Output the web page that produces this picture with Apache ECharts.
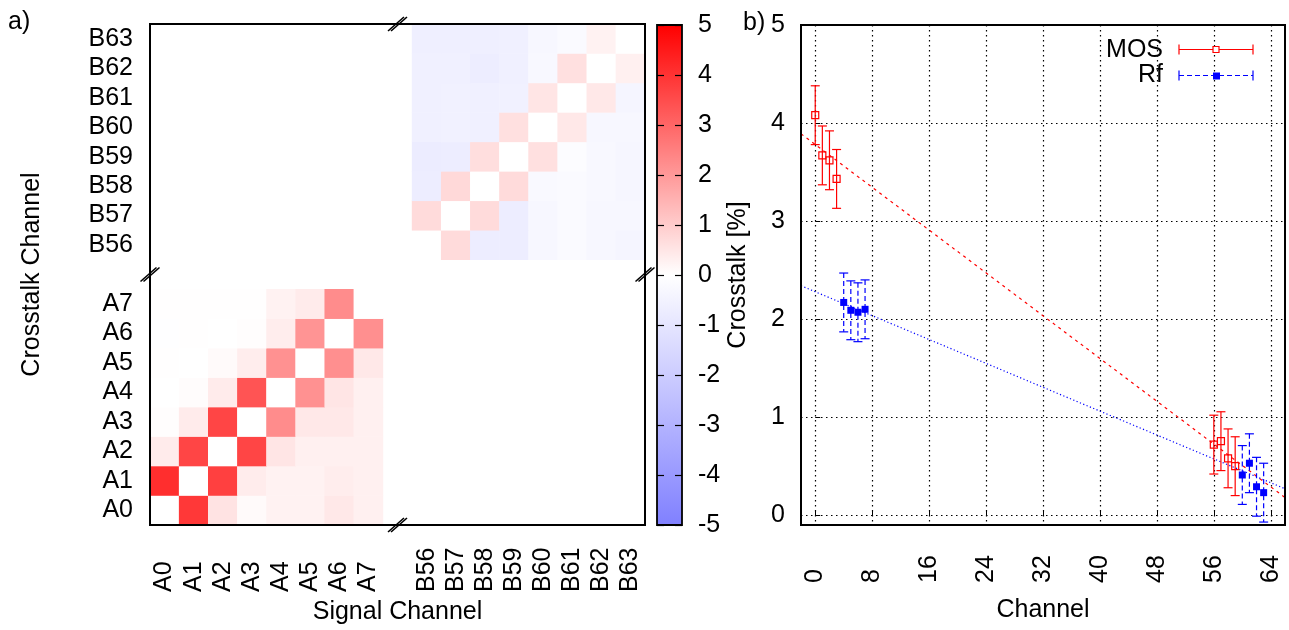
<!DOCTYPE html>
<html>
<head>
<meta charset="utf-8">
<script src="https://cdn.jsdelivr.net/npm/echarts@6/dist/echarts.min.js"></script>
<style>
html,body{margin:0;padding:0;background:#fff;}
#chart{width:1289px;height:630px;}
</style>
</head>
<body>
<div id="chart"></div>
<script>
// ---------- data ----------
const signalCats = ['A0','A1','A2','A3','A4','A5','A6','A7','','B56','B57','B58','B59','B60','B61','B62','B63'];
const crossCats  = ['A0','A1','A2','A3','A4','A5','A6','A7','','B56','B57','B58','B59','B60','B61','B62','B63'];
// rows: crosstalk channel A0..A7 ; cols: signal channel A0..A7
const blockA = [
  [0.00, 3.90, 0.55, 0.10, 0.25, 0.25, 0.45, 0.30],
  [4.10, 0.00, 3.75, 0.37, 0.25, 0.25, 0.35, 0.30],
  [0.40, 3.65, 0.00, 3.65, 0.50, 0.30, 0.30, 0.30],
  [0.03, 0.40, 3.65, 0.00, 2.25, 0.45, 0.45, 0.30],
  [0.00, 0.05, 0.40, 3.35, 0.00, 2.15, 0.50, 0.30],
  [0.02, 0.00, 0.10, 0.35, 2.15, 0.00, 2.20, 0.45],
  [-0.05,0.02, 0.00, 0.03, 0.35, 2.10, 0.00, 2.20],
  [0.02, 0.02, 0.02, 0.02, 0.25, 0.40, 2.25, 0.00]
];
// rows: crosstalk channel B56..B63 ; cols: signal channel B56..B63
const blockB = [
  [0.00, 0.70, -0.70, -0.70, -0.30, -0.20, -0.30, -0.40],
  [0.70, 0.00, 0.70, -0.70, -0.30, -0.20, -0.30, -0.30],
  [-0.70, 0.75, 0.00, 0.70, -0.25, -0.20, -0.28, -0.35],
  [-0.75, -0.70, 0.65, 0.00, 0.60, -0.10, -0.28, -0.35],
  [-0.60, -0.55, -0.60, 0.60, 0.00, 0.45, -0.32, -0.32],
  [-0.60, -0.55, -0.60, -0.55, 0.50, 0.00, 0.45, -0.40],
  [-0.60, -0.60, -0.70, -0.60, -0.28, 0.60, 0.00, 0.30],
  [-0.63, -0.63, -0.63, -0.60, -0.30, -0.20, 0.25, 0.00]
];
const colorbarTicks = [-5,-4,-3,-2,-1,0,1,2,3,4,5];

const mosChannel = [0, 1, 2, 3, 56, 57, 58, 59];
const mosValue   = [4.08, 3.67, 3.62, 3.43, 0.72, 0.755, 0.58, 0.50];
const mosError   = [0.30, 0.30, 0.30, 0.30, 0.30, 0.30, 0.30, 0.30];
const rfChannel  = [4, 5, 6, 7, 60, 61, 62, 63];
const rfValue    = [2.17, 2.09, 2.07, 2.10, 0.41, 0.53, 0.29, 0.23];
const rfError    = [0.30, 0.30, 0.30, 0.30, 0.30, 0.30, 0.30, 0.30];
const mosFitX = [-2, 66];
const mosFitY = [3.89, 0.18];
const rfFitX  = [-2, 66];
const rfFitY  = [2.34, 0.27];
const channelTicks = [0, 8, 16, 24, 32, 40, 48, 56, 64];
const crosstalkTicks = [0, 1, 2, 3, 4, 5];

// ---------- layout ----------
const FONT = 'Liberation Sans, Arial, Helvetica, sans-serif';
const FS = 25;
const HM = {left:150, top:24, width:495, height:501};
const CB = {left:657, top:25, width:25, height:500};
const SC = {left:801, top:25, width:484, height:500};

const heatData = [];
for (let r = 0; r < 8; r++) for (let c = 0; c < 8; c++) {
  heatData.push([c, r, blockA[r][c]]);
  heatData.push([c + 9, r + 9, blockB[r][c]]);
}
const mosData = mosChannel.map((x, i) => [x, mosValue[i], mosError[i]]);
const rfData  = rfChannel.map((x, i) => [x, rfValue[i], rfError[i]]);

function errRender(color, filled, dashed) {
  return function (params, api) {
    const x = api.value(0), y = api.value(1), e = api.value(2);
    const pc = api.coord([x, y]), pt = api.coord([x, y + e]), pb = api.coord([x, y - e]);
    const cap = 4.5, s = 3.5;
    const ls = {stroke: color, lineWidth: 1.2, lineDash: dashed ? [5, 3] : null};
    return {type: 'group', children: [
      {type: 'line', shape: {x1: pt[0], y1: pt[1], x2: pb[0], y2: pb[1]}, style: ls},
      {type: 'line', shape: {x1: pt[0] - cap, y1: pt[1], x2: pt[0] + cap, y2: pt[1]}, style: {stroke: color, lineWidth: 1.2}},
      {type: 'line', shape: {x1: pb[0] - cap, y1: pb[1], x2: pb[0] + cap, y2: pb[1]}, style: {stroke: color, lineWidth: 1.2}},
      {type: 'rect', shape: {x: pc[0] - s, y: pc[1] - s, width: 2 * s, height: 2 * s},
       style: filled ? {fill: color} : {fill: 'transparent', stroke: color, lineWidth: 1.2}}
    ]};
  };
}

function breakMark(cx, cy) {
  const d = 3;
  return [
    {type: 'line', z: 101, shape: {x1: cx - 8 - d/2, y1: cy + 7, x2: cx + 8 - d/2, y2: cy - 7}, style: {stroke: '#000', lineWidth: 1.6}},
    {type: 'line', z: 101, shape: {x1: cx - 8 + d/2, y1: cy + 7, x2: cx + 8 + d/2, y2: cy - 7}, style: {stroke: '#000', lineWidth: 1.6}}
  ];
}
const gapX = HM.left + HM.width * 8.5 / 17;
const gapY = HM.top + HM.height * 8.5 / 17;

const graphics = [
  {type: 'rect', z: -10, shape: {x: CB.left, y: CB.top, width: CB.width, height: CB.height},
   style: {fill: {type: 'linear', x: 0, y: 0, x2: 0, y2: 1, colorStops: [
     {offset: 0, color: '#ff0000'}, {offset: 0.5, color: '#ffffff'}, {offset: 1, color: '#8080ff'}]}}},
  {type: 'rect', z: 100, shape: {x: CB.left, y: CB.top, width: CB.width, height: CB.height}, style: {fill: 'transparent', stroke: '#000', lineWidth: 1.8}},
  {type: 'rect', z: 100, shape: {x: HM.left, y: HM.top, width: HM.width, height: HM.height}, style: {fill: 'transparent', stroke: '#000', lineWidth: 2}},
  {type: 'rect', z: 100, shape: {x: SC.left, y: SC.top, width: SC.width, height: SC.height}, style: {fill: 'transparent', stroke: '#000', lineWidth: 2}},
  ...breakMark(gapX, HM.top), ...breakMark(gapX, HM.top + HM.height),
  ...breakMark(HM.left, gapY), ...breakMark(HM.left + HM.width, gapY),
  {type: 'text', z: 100, style: {text: 'a)', x: 8, y: 22, font: FS + 'px ' + FONT, fill: '#000', verticalAlign: 'middle'}},
  {type: 'text', z: 100, style: {text: 'b)', x: 743, y: 23, font: FS + 'px ' + FONT, fill: '#000', verticalAlign: 'middle'}},
  // legend
  {type: 'text', z: 100, style: {text: 'MOS', x: 1163, y: 50, font: FS + 'px ' + FONT, fill: '#000', align: 'right', verticalAlign: 'middle'}},
  {type: 'line', z: 100, shape: {x1: 1179, y1: 49.5, x2: 1253, y2: 49.5}, style: {stroke: '#ff0000', lineWidth: 1.2}},
  {type: 'line', z: 100, shape: {x1: 1179, y1: 44.5, x2: 1179, y2: 54.5}, style: {stroke: '#ff0000', lineWidth: 1.2}},
  {type: 'line', z: 100, shape: {x1: 1253, y1: 44.5, x2: 1253, y2: 54.5}, style: {stroke: '#ff0000', lineWidth: 1.2}},
  {type: 'rect', z: 101, shape: {x: 1213, y: 46.5, width: 6, height: 6}, style: {fill: '#fff', stroke: '#ff0000', lineWidth: 1.2}},
  {type: 'text', z: 100, style: {text: 'Rf', x: 1163, y: 75, font: FS + 'px ' + FONT, fill: '#000', align: 'right', verticalAlign: 'middle'}},
  {type: 'line', z: 100, shape: {x1: 1179, y1: 75.5, x2: 1253, y2: 75.5}, style: {stroke: '#0000ff', lineWidth: 1.2, lineDash: [5, 3]}},
  {type: 'line', z: 100, shape: {x1: 1179, y1: 70.5, x2: 1179, y2: 80.5}, style: {stroke: '#0000ff', lineWidth: 1.2}},
  {type: 'line', z: 100, shape: {x1: 1253, y1: 70.5, x2: 1253, y2: 80.5}, style: {stroke: '#0000ff', lineWidth: 1.2}},
  {type: 'rect', z: 101, shape: {x: 1213, y: 72.5, width: 7, height: 7}, style: {fill: '#0000ff'}}
];

const txt = {fontFamily: FONT, fontSize: FS, color: '#000'};

const option = {
  animation: false,
  backgroundColor: '#fff',
  textStyle: {fontFamily: FONT},
  grid: [
    {left: HM.left, top: HM.top, width: HM.width, height: HM.height, containLabel: false, outerBoundsMode: 'none'},
    {left: CB.left, top: CB.top, width: CB.width, height: CB.height, containLabel: false, outerBoundsMode: 'none'},
    {left: SC.left, top: SC.top, width: SC.width, height: SC.height, containLabel: false, outerBoundsMode: 'none'}
  ],
  xAxis: [
    {type: 'category', gridIndex: 0, data: signalCats,
     axisLine: {show: false}, axisTick: {show: false}, splitLine: {show: false},
     axisLabel: Object.assign({rotate: 90, interval: 0, align: 'left', margin: 67}, txt),
     name: 'Signal Channel', nameLocation: 'middle', nameGap: 74, nameTextStyle: txt},
    {type: 'value', gridIndex: 1, min: 0, max: 1, show: false},
    {type: 'value', gridIndex: 2, min: -2, max: 66,
     axisLine: {show: false},
     axisTick: {show: true, inside: true, length: 5, customValues: channelTicks, lineStyle: {color: '#000'}},
     axisLabel: Object.assign({rotate: 90, align: 'left', margin: 58, customValues: channelTicks}, txt),
     splitLine: {show: true, lineStyle: {color: '#000', type: [1.5, 3.5], width: 1.2}},
     name: 'Channel', nameLocation: 'middle', nameGap: 73, nameTextStyle: txt}
  ],
  yAxis: [
    {type: 'category', gridIndex: 0, data: crossCats,
     axisLine: {show: false}, axisTick: {show: false}, splitLine: {show: false},
     axisLabel: Object.assign({interval: 0, margin: 17}, txt),
     name: 'Crosstalk Channel', nameLocation: 'middle', nameGap: 105, nameRotate: 90, nameTextStyle: txt},
    {type: 'value', gridIndex: 1, position: 'left', min: -5, max: 5, interval: 1, z: 10,
     axisLine: {show: false}, axisLabel: {show: false}, splitLine: {show: false},
     axisTick: {show: true, inside: true, length: 7, lineStyle: {color: '#000', width: 1.2}}},
    {type: 'value', gridIndex: 1, position: 'right', min: -5, max: 5, interval: 1, z: 10,
     axisLine: {show: false}, splitLine: {show: false},
     axisTick: {show: true, inside: true, length: 7, lineStyle: {color: '#000', width: 1.2}},
     axisLabel: Object.assign({margin: 16, data: colorbarTicks}, txt),
     name: 'Crosstalk [%]', nameLocation: 'middle', nameGap: 44, nameRotate: 90, nameTextStyle: txt},
    {type: 'value', gridIndex: 2, min: -0.1, max: 5,
     axisLine: {show: false},
     axisTick: {show: true, inside: true, length: 5, customValues: crosstalkTicks, lineStyle: {color: '#000'}},
     axisLabel: Object.assign({margin: 16, customValues: crosstalkTicks}, txt),
     splitLine: {show: true, lineStyle: {color: '#000', type: [1.5, 3.5], width: 1.2}}}
  ],
  visualMap: {
    type: 'continuous', show: false, min: -5, max: 5, seriesIndex: 0, dimension: 2,
    inRange: {color: ['#8080ff', '#ffffff', '#ff0000']}
  },
  graphic: graphics,
  series: [
    {type: 'heatmap', xAxisIndex: 0, yAxisIndex: 0, data: heatData,
     itemStyle: {borderWidth: 0}, emphasis: {disabled: true}, silent: true},
    {type: 'line', xAxisIndex: 2, yAxisIndex: 3, data: mosFitX.map((x, i) => [x, mosFitY[i]]),
     showSymbol: false, silent: true, lineStyle: {color: '#ff0000', width: 1.2, type: [3, 4]}, z: 3},
    {type: 'line', xAxisIndex: 2, yAxisIndex: 3, data: rfFitX.map((x, i) => [x, rfFitY[i]]),
     showSymbol: false, silent: true, lineStyle: {color: '#0000ff', width: 1.2, type: [1.2, 2.4]}, z: 3},
    {type: 'custom', xAxisIndex: 2, yAxisIndex: 3, data: mosData, encode: {x: 0, y: 1},
     renderItem: errRender('#ff0000', false, false), silent: true, z: 4},
    {type: 'custom', xAxisIndex: 2, yAxisIndex: 3, data: rfData, encode: {x: 0, y: 1},
     renderItem: errRender('#0000ff', true, true), silent: true, z: 5}
  ]
};

const chart = echarts.init(document.getElementById('chart'), null, {renderer: 'canvas'});
chart.setOption(option);
</script>
</body>
</html>
